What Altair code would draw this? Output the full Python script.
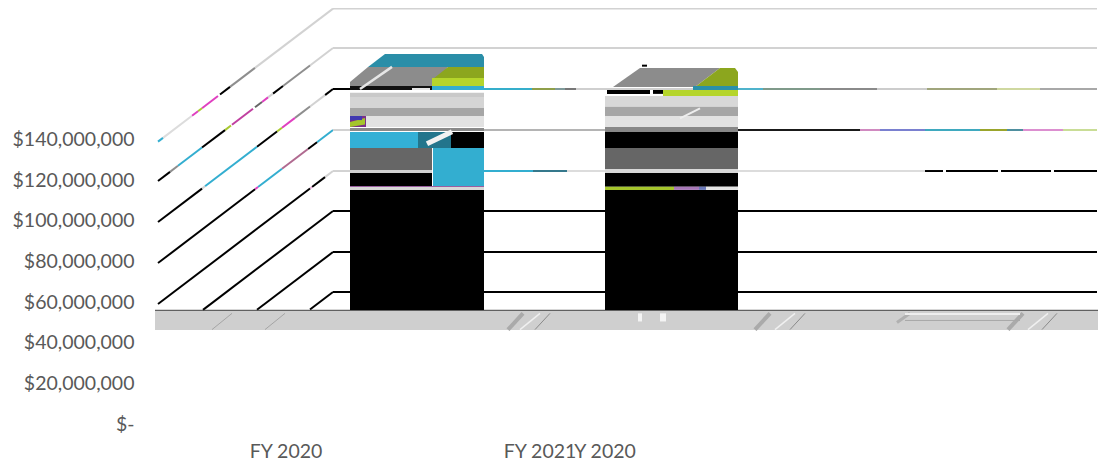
import altair as alt
import pandas as pd

# Dollar axis
y_ticks = [0, 20e6, 40e6, 60e6, 80e6, 100e6, 120e6, 140e6]
cat_labels = ["FY 2020", "FY 2021", "Y 2020"]
cat_pos = [286, 540, 605]

M = 1e6
# back-wall grid planes ($M)
planes = [204.6, 185.2, 165.0, 144.8, 124.6, 104.9, 84.7, 65.0]
SLOPE = 0.3744  # $M per unit of depth
GR = "#d2d2d2"
K = "#000000"
# horizontal segments per plane: (x0, x1, colour)
h_segments = {
    0: [(333, 1097, GR)],
    1: [(333, 1097, GR)],
    2: [(333, 350, K), (484, 532, "#35aecb"), (532, 555, "#8f9f4a"), (555, 565, "#7f9a9a"), (565, 576, "#777777"),
        (576, 738, "#cfcfcf"), (738, 763, "#4fb3cc"), (763, 820, "#7f9a8a"), (820, 877, "#8a8a8a"),
        (877, 927, "#cccccc"), (927, 997, "#a0a57c"), (997, 1040, "#cfd8a0"), (1040, 1097, "#a8a8a8")],
    3: [(333, 350, GR), (484, 605, "#b4b4b4"), (738, 860, "#1a1a1a"), (860, 880, "#d08ac0"), (880, 925, "#7a80d0"),
        (925, 980, "#3fa9bf"), (980, 1007, "#9aa52c"), (1007, 1023, "#4f8f9f"),
        (1023, 1063, "#dc8fd0"), (1063, 1097, "#c9dd96")],
    4: [(333, 350, GR), (484, 533, "#33aed0"), (533, 567, "#35788c"), (567, 925, "#dcdcdc"),
        (925, 943, K), (946, 998, K), (1001, 1051, K), (1054, 1097, K)],
    5: [(333, 1097, K)],
    6: [(333, 1097, K)],
    7: [(333, 1097, K)],
}
# receding segments per plane: (x0, x1, colour)
d_segments = {
    0: [(333, 255, GR), (255, 230, "#8e8e8e"), (230, 220, K), (218, 202, "#e040c0"), (202, 198, "#a8c830"),
        (198, 192, "#e040c0"), (192, 163, "#dcdcdc"), (163, 158, "#33aed0")],
    1: [(333, 310, GR), (310, 283, "#8e8e8e"), (283, 273, K), (273, 268, GR), (268, 262, "#e040c0"),
        (262, 255, "#666666"), (253, 232, "#c040a0"), (231, 225, "#a8c830"), (225, 202, K),
        (202, 178, "#33aed0"), (178, 170, "#8e8e8e"), (170, 158, K)],
    2: [(333, 325, K), (325, 310, GR), (310, 295, "#8e8e8e"), (295, 282, "#e040c0"), (282, 277, "#a8c830"),
        (277, 257, K), (257, 205, "#33aed0"), (205, 202, GR), (202, 158, K)],
    3: [(333, 317, "#33aed0"), (317, 308, K), (308, 282, "#b06a90"), (282, 258, "#33aed0"),
        (258, 255, "#e040c0"), (255, 158, K)],
    4: [(333, 325, GR), (325, 312, K), (312, 310, "#e8b0d8"), (310, 158, K)],
    5: [(333, 203, K)],
    6: [(333, 257, K)],
    7: [(333, 310, K)],
}

# floor strip
floor_x = [155, 1103]
floor_val = [55.7, 46.3]
floor_col = "#cfcfcf"

# flat patches of the two columns: x0, x1, top $M, bottom $M, colour
bar_x0 = [350, 432, 432, 350, 350, 350, 366, 350, 350, 350, 418, 451, 350, 433, 350, 350, 350, 350, 350,
          607, 653, 663, 693, 605, 605, 605, 605, 605, 605, 605, 605, 605, 674, 699, 706, 605]
bar_x1 = [484, 484, 484, 484, 484, 484, 484, 366, 484, 418, 451, 484, 432, 484, 432, 432, 484, 484, 484,
          650, 673, 738, 738, 738, 738, 738, 738, 738, 738, 738, 738, 674, 699, 706, 738, 738]
bar_top = [166.5, 170.4, 166.5, 163.1, 161.1, 155.7, 151.7, 151.7, 145.8, 143.8, 143.8, 143.8,
           136.0, 136.0, 125.1, 123.6, 117.2, 116.7, 115.3,
           164.5, 164.5, 164.5, 166.5, 161.6, 156.2, 151.7, 146.3, 143.8, 136.0, 125.6, 123.6,
           116.9, 116.9, 116.9, 116.9, 115.3]
bar_bot = [164.5, 166.5, 164.5, 161.1, 155.7, 151.7, 146.3, 146.3, 144.3, 136.0, 136.0, 136.0,
           125.1, 117.2, 123.6, 117.2, 116.7, 115.3, 56.2,
           162.6, 162.6, 161.6, 164.5, 156.2, 151.7, 146.3, 143.8, 136.0, 125.6, 123.6, 116.9,
           115.3, 115.3, 115.3, 115.3, 56.2]
bar_col = ["#111111", "#b5d52b", "#33aed0", "#c9c9c9", "#d5d5d5", "#a6a6a6", "#e2e2e2", "#7a2f8a", "#8a8a8a",
           "#33b0d6", "#23758c", "#000000", "#666666", "#33aed0", "#d2d2d2", "#000000", "#9a5fa0", "#d8d8d8", "#000000",
           "#000000", "#000000", "#b5d52b", "#2a90a8", "#d8d8d8", "#a6a6a6", "#e2e2e2", "#888888",
           "#000000", "#666666", "#d8d8d8", "#000000", "#a5c52c", "#a878b8", "#6a78b8", "#e4e4e4", "#000000"]

# angled top faces: polygon id, x, upper $M, lower $M, colour
poly_id = ["a", "a", "a", "a", "b", "b", "b", "b", "c", "c", "c", "d", "d", "d", "d", "e", "e", "e", "e",
           "f", "f", "g", "g"]
poly_x = [350, 368, 432, 448, 368, 385, 482, 484, 432, 448, 484, 613, 640, 695, 720, 695, 720, 735, 738,
          350, 365, 350, 362]
poly_up = [168.5, 175.9, 175.9, 175.9, 175.9, 182.3, 182.3, 180.8, 169.5, 175.9, 175.9,
           166.0, 175.4, 175.4, 175.4, 166.0, 175.4, 175.4, 173.4, 148.7, 150.7, 151.7, 151.7]
poly_lo = [166.5, 166.5, 166.5, 175.9, 175.9, 175.9, 175.9, 175.9, 169.5, 169.5, 169.5,
           166.0, 166.0, 166.0, 175.4, 166.0, 166.0, 166.0, 166.0, 146.3, 147.5, 149.7, 149.7]
poly_col = ["#8c8c8c"] * 4 + ["#2a8ea8"] * 4 + ["#8ca61e"] * 3 + ["#8c8c8c"] * 4 + ["#8ca61e"] * 4 \
    + ["#a5c52c"] * 2 + ["#4038b0"] * 2

# streaks on floor and columns: x0, x1, $M0, $M1, width, colour
st_x0 = [360, 412, 427, 680, 642, 755, 508, 1008, 897, 905, 212, 265, 520, 775, 1028, 640, 663, 905, 535, 790, 1042]
st_x1 = [392, 430, 452, 700, 647, 770, 523, 1023, 910, 1020, 232, 285, 540, 795, 1048, 640, 663, 1020, 550, 805, 1057]
st_y0 = [165.0, 165.0, 138.0, 150.5, 176.5, 46.5, 46.5, 46.5, 50.0, 54.2, 46.5, 46.5, 46.5, 46.5, 46.5, 54.5, 54.5, 51.0,
         46.5, 46.5, 46.5]
st_y1 = [175.9, 165.0, 144.0, 155.5, 176.5, 54.5, 54.5, 54.5, 54.5, 54.2, 54.5, 54.5, 54.5, 54.5, 54.5, 50.5, 50.5, 51.0,
         54.5, 54.5, 54.5]
st_w = [2.5, 2, 5, 2, 2, 4, 4, 4, 3, 2, 1, 1, 1.5, 1.5, 1.5, 4, 6, 1, 1, 1, 1]
st_c = ["#e6e6e6", "#e6e6e6", "#f2f2f2", "#eeeeee", "#000000", "#aaaaaa", "#aaaaaa", "#aaaaaa", "#b0b0b0", "#eeeeee",
        "#a5a5a5", "#a5a5a5", "#f0f0f0", "#f0f0f0", "#f0f0f0", "#f4f4f4", "#f4f4f4", "#a8a8a8",
        "#8a8a8a", "#8a8a8a", "#8a8a8a"]

# ---------------------------------------------------------------- build tables
line_rows = []
for i, v in enumerate(planes):
    for a, b, c in d_segments[i]:
        line_rows.append(dict(x=a, x2=b, y=(v - (333 - a) * SLOPE) * M, y2=(v - (333 - b) * SLOPE) * M, c=c, w=2))
    for a, b, c in h_segments[i]:
        line_rows.append(dict(x=a, x2=b, y=v * M, y2=v * M, c=c, w=2))
lines = pd.DataFrame(line_rows)
edge = pd.DataFrame([dict(x=155, x2=1103, y=56.0 * M, y2=56.0 * M, c="#3a3a3a", w=1)])

rects = pd.DataFrame(dict(x=bar_x0, x2=bar_x1, y=[v * M for v in bar_top], y2=[v * M for v in bar_bot], c=bar_col))
floor = pd.DataFrame(dict(x=[floor_x[0]], x2=[floor_x[1]], y=[floor_val[0] * M], y2=[floor_val[1] * M], c=[floor_col]))
polys = pd.DataFrame(dict(id=poly_id, x=poly_x, y=[v * M for v in poly_up], y2=[v * M for v in poly_lo], c=poly_col))
streaks = pd.DataFrame(dict(x=st_x0, x2=st_x1, y=[v * M for v in st_y0], y2=[v * M for v in st_y1], w=st_w, c=st_c))
cats = pd.DataFrame(dict(x=cat_pos, t=cat_labels))

FONT = "Lato"
TXT = "#595959"
xs = alt.Scale(domain=[138, 1098], range=[0, 960], nice=False, zero=False)
ys = alt.Scale(domain=[0, 204.9e6], range=[416, 0], nice=False, zero=False)
X = alt.X("x:Q", scale=xs, axis=None)
Y = alt.Y("y:Q", scale=ys, title=None,
          axis=alt.Axis(values=y_ticks, grid=False, domain=False, ticks=False, labelPadding=4,
                        labelFont=FONT, labelFontSize=19.5, labelColor=TXT,
                        labelExpr="datum.value == 0 ? '$-' : format(datum.value, '$,.0f')"))
NC = alt.Color("c:N", scale=None, legend=None)
WIDTH = alt.StrokeWidth("w:Q", scale=None, legend=None)

rule_enc = dict(x=X, x2="x2:Q", y=Y, y2="y2:Q", color=NC, strokeWidth=WIDTH)
grid = alt.Chart(lines).mark_rule().encode(**rule_enc)
floor_l = alt.Chart(floor).mark_rect(stroke=None).encode(x=X, x2="x2:Q", y=Y, y2="y2:Q", color=NC)
edge_l = alt.Chart(edge).mark_rule().encode(**rule_enc)
rect_l = alt.Chart(rects).mark_rect(stroke=None).encode(x=X, x2="x2:Q", y=Y, y2="y2:Q", color=NC)
poly_l = alt.Chart(polys[~polys["id"].isin(["f", "g"])]).mark_area(interpolate="linear").encode(
    x=X, y=Y, y2="y2:Q", color=NC, detail="id:N")
swatch_l = alt.Chart(polys[polys["id"].isin(["f", "g"])]).mark_area(interpolate="linear").encode(
    x=X, y=Y, y2="y2:Q", color=NC, detail="id:N")
streak_l = alt.Chart(streaks).mark_rule().encode(**rule_enc)
txt = alt.Chart(cats).mark_text(font=FONT, fontSize=19.5, color=TXT, align="center", baseline="middle").encode(
    x=X, y=alt.value(444), text="t:N")

chart = alt.layer(grid, floor_l, edge_l, poly_l, rect_l, swatch_l, streak_l, txt).properties(
    width=960, height=416,
    padding={"left": 130, "top": 0, "right": 0, "bottom": 40},
    autosize=alt.AutoSizeParams(type="none"),
).configure_view(stroke=None)

chart.save("out.html", embed_options={"renderer": "svg", "actions": False})
